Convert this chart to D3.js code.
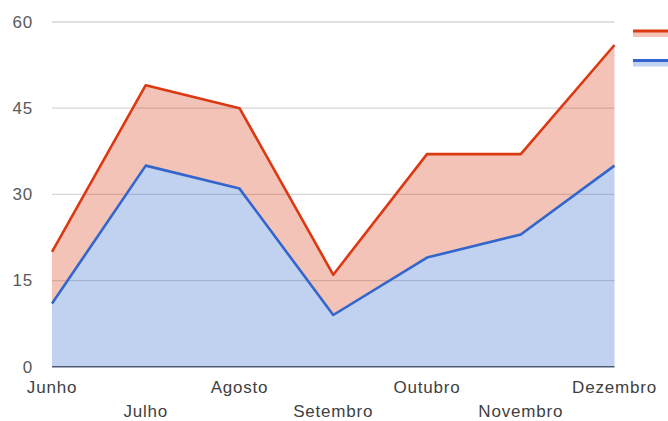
<!DOCTYPE html>
<html>
<head>
<meta charset="utf-8">
<script src="https://cdn.jsdelivr.net/npm/d3@7"></script>
<style>
  html, body { margin: 0; padding: 0; background: #fff; }
  svg { display: block; }
  text { font-family: "Liberation Sans", Arial, sans-serif; }
</style>
</head>
<body>
<svg id="chart" width="668" height="421"></svg>
<script>
// Months on the x axis
const months = ["Junho", "Julho", "Agosto", "Setembro", "Outubro", "Novembro", "Dezembro"];
// Lower series (blue), drawn from the baseline
const blueValues = [11, 35, 31, 9, 19, 23, 35];
// Upper series (red), stacked on top of the blue series
const redValues = [9, 14, 14, 7, 18, 14, 21];
// Value axis ticks
const yTicks = [0, 15, 30, 45, 60];

const colors = { blue: "#3366cc", red: "#dc3912" };
const fills = { blue: "#bfcdee", red: "#f3bfb2" };

const svg = d3.select("#chart");
const W = 668, H = 421;
const plot = { left: 52, right: 614.5, top: 22, bottom: 366.7 };

const x = d3.scalePoint().domain(months).range([plot.left, plot.right]);
const y = d3.scaleLinear().domain([0, 60]).range([plot.bottom, plot.top]);

const rows = months.map((m, i) => ({ month: m, blue: blueValues[i], red: redValues[i] }));
const stacked = d3.stack().keys(["blue", "red"])(rows);

// Gridlines
svg.append("g")
  .selectAll("line")
  .data(yTicks.filter(t => t > 0))
  .join("line")
  .attr("x1", plot.left).attr("x2", plot.right)
  .attr("y1", d => y(d)).attr("y2", d => y(d))
  .attr("stroke", "#d6d6d6").attr("stroke-width", 1.3);

const area = d3.area()
  .x(d => x(d.data.month))
  .y0(d => y(d[0]))
  .y1(d => y(d[1]));

const line = d3.line()
  .x(d => x(d.data.month))
  .y(d => y(d[1]));

// Filled bands, semi-transparent so gridlines show through
svg.append("g")
  .selectAll("path")
  .data(stacked)
  .join("path")
  .attr("d", area)
  .attr("fill", d => colors[d.key])
  .attr("fill-opacity", 0.3);

// Baseline
svg.append("line")
  .attr("x1", plot.left).attr("x2", plot.right)
  .attr("y1", y(0)).attr("y2", y(0))
  .attr("stroke", "#4e5a73").attr("stroke-width", 1.6);

// Series lines
svg.append("g")
  .selectAll("path")
  .data(stacked)
  .join("path")
  .attr("d", line)
  .attr("fill", "none")
  .attr("stroke", d => colors[d.key])
  .attr("stroke-width", 2.6)
  .attr("stroke-linejoin", "round");

// Y axis labels
svg.append("g")
  .selectAll("text")
  .data(yTicks)
  .join("text")
  .attr("x", 33)
  .attr("y", d => y(d))
  .attr("dy", "0.35em")
  .attr("text-anchor", "end")
  .attr("font-size", 17)
  .attr("letter-spacing", 0.8)
  .attr("fill", "#5a5a5a")
  .text(d => d);

// X axis labels on two staggered rows
svg.append("g")
  .selectAll("text")
  .data(months)
  .join("text")
  .attr("x", d => x(d))
  .attr("y", (d, i) => i % 2 === 0 ? 393 : 417)
  .attr("text-anchor", "middle")
  .attr("font-size", 17)
  .attr("letter-spacing", 0.8)
  .attr("fill", "#3f3f3f")
  .text(d => d);

// Legend swatches (line over a light band)
const legend = svg.append("g");
[["red", 31], ["blue", 60.5]].forEach(([key, cy]) => {
  legend.append("rect")
    .attr("x", 633).attr("y", cy).attr("width", 40).attr("height", 6)
    .attr("fill", colors[key]).attr("fill-opacity", 0.3);
  legend.append("line")
    .attr("x1", 633).attr("x2", 673)
    .attr("y1", cy).attr("y2", cy)
    .attr("stroke", colors[key]).attr("stroke-width", 3);
});
</script>
</body>
</html>
